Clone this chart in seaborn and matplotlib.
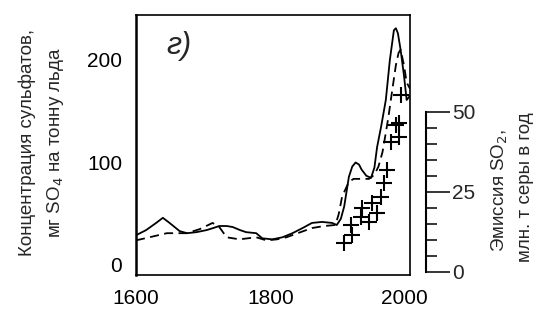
import numpy as np
import pandas as pd
import matplotlib
matplotlib.use("Agg")
import matplotlib.pyplot as plt
from matplotlib.ticker import FixedLocator
import seaborn as sns

# sulfate concentration in ice, mg SO4 per tonne (solid and dashed cores)
solid_years = [1600, 1615, 1630, 1640, 1650, 1665, 1676, 1690, 1705, 1715, 1724, 1735,
               1744, 1755, 1764, 1779, 1788, 1803, 1818, 1833, 1848, 1862, 1877, 1892,
               1899, 1905, 1910, 1917, 1922, 1927, 1932, 1936, 1943, 1950, 1955, 1959,
               1965, 1972, 1978, 1984, 1987, 1990, 1994, 1999, 2003, 2008]
solid_conc = [29, 34, 41, 46, 41, 33, 31, 32, 34, 36, 38, 38,
              37, 34, 32, 31, 26, 25, 27, 31, 36, 41, 42, 41,
              39, 45, 57, 86, 96, 100, 98, 93, 87, 85, 95, 115,
              135, 161, 200, 229, 231, 226, 210, 185, 161, 165]

dash_years = [1600, 1620, 1646, 1676, 1695, 1714, 1724, 1735, 1754, 1779, 1794,
              1810, 1824, 1845, 1862, 1880, 1897, 1902, 1907, 1917, 1924, 1935,
              1947, 1955, 1961, 1967, 1972, 1976, 1981, 1987, 1991, 1994, 1999,
              2003, 2008]
dash_conc = [24, 27, 31, 31, 35, 41, 37, 27, 25, 27, 24,
             25, 27, 32, 36, 38, 39, 50, 67, 81, 84, 84,
             84, 88, 96, 110, 129, 145, 168, 195, 207, 210, 195,
             178, 172]

# SO2 emission, Mt sulfur per year (crosses, right scale)
emis_years = [1910, 1921, 1920, 1935, 1936, 1947, 1951, 1959, 1965, 1969, 1974,
              1979, 1987, 1991, 1991, 1994]
emis_vals = [9.1, 11.6, 14.7, 17.2, 20.0, 15.6, 21.6, 18.4, 23.4, 27.8, 31.9,
             40.6, 45.9, 46.6, 42.2, 55.3]

sns.set_theme(style="white")
plt.rcParams["font.family"] = ["Liberation Sans", "DejaVu Sans"]

fig = plt.figure(figsize=(5.41, 3.31), dpi=100)
ax = fig.add_axes([136 / 541, 1 - 275 / 331, 274 / 541, 260 / 331])

df_s = pd.DataFrame({"year": solid_years, "conc": solid_conc})
df_d = pd.DataFrame({"year": dash_years, "conc": dash_conc})
sns.lineplot(data=df_s, x="year", y="conc", ax=ax, color="black", lw=1.3,
             sort=False, estimator=None)
sns.lineplot(data=df_d, x="year", y="conc", ax=ax, color="black", lw=1.3,
             sort=False, estimator=None, dashes=False, linestyle=(0, (5, 3)))

ax.set_xlim(1600, 2008)
ax.set_ylim(-9.8, 243.9)
ax.set_xticks([1600, 1800, 2000])
ax.set_yticks([0, 100, 200])
ax.tick_params(axis="both", length=0, labelsize=15, labelcolor="black")
ax.tick_params(axis="x", pad=10)
ax.tick_params(axis="y", pad=10)
ax.set_xlabel("")
ax.set_ylabel("")
for sp in ax.spines.values():
    sp.set_visible(True)
    sp.set_color("black")
    sp.set_linewidth(1.2)
ax.spines["left"].set_linewidth(1.8)

ax.text(0.155, 0.88, "г)", transform=ax.transAxes, fontsize=22,
        style="italic", ha="center", va="center")

# right-hand emission scale
ax2 = ax.twinx()
df_e = pd.DataFrame({"year": emis_years, "emis": emis_vals})
sns.scatterplot(data=df_e, x="year", y="emis", ax=ax2, marker="+", s=120,
                color="black", linewidth=1.5)
ax2.set_ylim(-0.94, 80.3)
ax2.set_xlim(1600, 2008)
ax2.set_ylabel("")
ax2.grid(False)
for name in ["top", "bottom", "left"]:
    ax2.spines[name].set_visible(False)
ax2.spines["right"].set_visible(True)
ax2.spines["right"].set_position(("axes", 290 / 274))
ax2.spines["right"].set_bounds(0, 50)
ax2.spines["right"].set_color("black")
ax2.spines["right"].set_linewidth(1.5)
ax2.yaxis.set_major_locator(FixedLocator([0, 25, 50]))
ax2.yaxis.set_minor_locator(FixedLocator([5, 10, 15, 20, 30, 35, 40, 45]))
ax2.tick_params(axis="y", which="major", direction="out", length=17, width=1.1,
                color="black", labelsize=15, pad=2, right=True)
ax2.tick_params(axis="y", which="minor", direction="out", length=8, width=1.1,
                color="black", right=True)

fig.text(27 / 541, 1 - 143 / 331, "Концентрация сульфатов,", rotation=90,
         ha="center", va="center", fontsize=13.5)
fig.text(55 / 541, 1 - 143 / 331, "мг SO$_4$ на тонну льда", rotation=90,
         ha="center", va="center", fontsize=13.5)
fig.text(500 / 541, 1 - 190 / 331, "Эмиссия SO$_2$,", rotation=90,
         ha="center", va="center", fontsize=13.5)
fig.text(526 / 541, 1 - 187 / 331, "млн. т серы в год", rotation=90,
         ha="center", va="center", fontsize=13.5)

fig.savefig("out.png", dpi=100, facecolor="white")
